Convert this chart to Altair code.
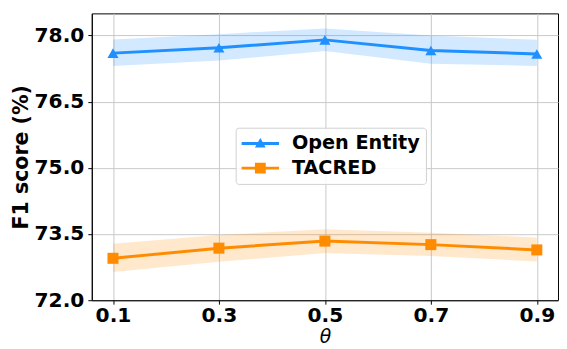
import altair as alt
import pandas as pd

theta = [0.1, 0.3, 0.5, 0.7, 0.9]
series_names = ["Open Entity", "TACRED"]
colors = ["#1E90FF", "#FF8C00"]

oe_mean = [77.60, 77.72, 77.90, 77.66, 77.58]
oe_lo = [77.31, 77.43, 77.65, 77.36, 77.31]
oe_hi = [77.91, 78.03, 78.16, 78.00, 77.90]

tac_mean = [72.95, 73.18, 73.34, 73.26, 73.14]
tac_lo = [72.64, 72.87, 73.07, 73.00, 72.88]
tac_hi = [73.28, 73.48, 73.61, 73.53, 73.42]

y_ticks = [72.0, 73.5, 75.0, 76.5, 78.0]

rows = []
for name, m, lo, hi in [("Open Entity", oe_mean, oe_lo, oe_hi),
                        ("TACRED", tac_mean, tac_lo, tac_hi)]:
    for t, a, b, c in zip(theta, m, lo, hi):
        rows.append({"theta": t, "series": name, "mean": a, "lo": b, "hi": c})
df = pd.DataFrame(rows)

# legend symbols: line segment + marker (custom paths)
tri_path = ("M-1,-0.15 L2.8,-0.15 L2.8,0.15 L-1,0.15 Z "
            "M0.9,-0.55 L1.45,0.4 L0.35,0.4 Z")
sq_path = ("M-1,-0.15 L2.8,-0.15 L2.8,0.15 L-1,0.15 Z "
           "M0.35,-0.55 L1.45,-0.55 L1.45,0.55 L0.35,0.55 Z")

xenc = alt.X("theta:Q",
             scale=alt.Scale(domain=[0.06, 0.94], nice=False, zero=False),
             axis=alt.Axis(values=theta, format=".1f", title="θ",
                           titleFontStyle="italic", titleFontWeight="normal",
                           titleFontSize=19, labelPadding=2,
                           titlePadding=1, grid=True))


def yenc(field):
    return alt.Y(f"{field}:Q",
                 scale=alt.Scale(domain=[72.0, 78.5], nice=False, zero=False),
                 axis=alt.Axis(values=y_ticks, format=".1f", title="F1 score (%)",
                               titleFontWeight="bold", titleFontSize=20.8,
                               titlePadding=3, grid=True))


cscale = alt.Scale(domain=series_names, range=colors)

base = alt.Chart(df)

leg = alt.Legend(orient="none", legendX=146, legendY=116, title=None,
                 labelFont="DejaVu Sans", labelFontSize=19.5,
                 labelFontWeight="bold", labelColor="black",
                 symbolSize=400, symbolStrokeWidth=0, symbolOpacity=1,
                 labelOffset=31, padding=6, rowPadding=5,
                 strokeColor="#d0d0d0", fillColor="rgba(255,255,255,0.85)",
                 cornerRadius=3)

legend_layer = base.mark_point(filled=True, opacity=0).encode(
    x=xenc, y=yenc("mean"),
    color=alt.Color("series:N", scale=cscale, legend=leg),
    shape=alt.Shape("series:N",
                    scale=alt.Scale(domain=series_names, range=[tri_path, sq_path]),
                    legend=leg),
)

band = base.mark_area(opacity=0.2).encode(
    x=xenc, y=yenc("lo"), y2="hi:Q",
    color=alt.Color("series:N", scale=cscale, legend=None),
)

line = base.mark_line(strokeWidth=3).encode(
    x=xenc, y=yenc("mean"),
    color=alt.Color("series:N", scale=cscale, legend=None),
)

pts_oe = base.transform_filter(alt.datum.series == "Open Entity").mark_point(
    shape="triangle-up", filled=True, size=125, opacity=1
).encode(x=xenc, y=yenc("mean"),
         color=alt.Color("series:N", scale=cscale, legend=None))

pts_tac = base.transform_filter(alt.datum.series == "TACRED").mark_point(
    shape="square", filled=True, size=125, opacity=1
).encode(x=xenc, y=yenc("mean"),
         color=alt.Color("series:N", scale=cscale, legend=None))

chart = alt.layer(legend_layer, band, line, pts_oe, pts_tac).properties(
    width=473, height=291,
    autosize=alt.AutoSizeParams(type="none"),
    padding={"left": 85, "top": 3, "right": 1, "bottom": 46},
).configure(font="DejaVu Sans").configure_view(
    stroke="black", strokeWidth=1
).configure_axis(
    labelFont="DejaVu Sans", labelFontSize=20.5, labelFontWeight="bold",
    labelColor="black", titleFont="DejaVu Sans",
    titleColor="black", domainColor="black", domainWidth=1,
    tickColor="black", tickSize=4, tickWidth=1, labelPadding=4,
    gridColor="#c8c8c8", gridWidth=1,
)

chart.save("out.html", embed_options={"renderer": "svg", "actions": False})
